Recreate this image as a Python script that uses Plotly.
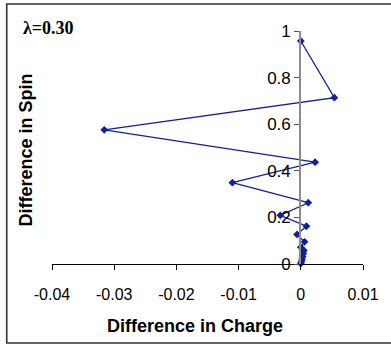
import plotly.graph_objects as go

# Data
charge_diff = [0.0, 0.0054, -0.0316, 0.0023, -0.011, 0.0012, -0.0033, 0.0009,
               -0.0006, 0.0006, 0.0, 0.0005, 0.0004, 0.0003, 0.0002, 0.0001, 0.0]
spin_diff = [0.957, 0.714, 0.576, 0.437, 0.349, 0.263, 0.209, 0.162,
             0.127, 0.095, 0.072, 0.058, 0.045, 0.032, 0.02, 0.01, 0.002]

x_ticks = [-0.04, -0.03, -0.02, -0.01, 0, 0.01]
x_tick_labels = ["-0.04", "-0.03", "-0.02", "-0.01", "0", "0.01"]
y_ticks = [0, 0.2, 0.4, 0.6, 0.8, 1]
y_tick_labels = ["0", "0.2", "0.4", "0.6", "0.8", "1"]

W, H = 391, 345
ml, mr, mt, mb = 52, 23, 31, 81
pw = W - ml - mr
ph = H - mt - mb

def px_to_xpaper(px):
    return (px - ml) / pw

def py_to_ypaper(py):
    return (H - mb - py) / ph

line_color = "#10209a"

fig = go.Figure()
fig.add_trace(go.Scatter(
    x=charge_diff, y=spin_diff, mode="lines+markers",
    line=dict(color=line_color, width=1.3),
    marker=dict(symbol="diamond", size=6, color=line_color),
    showlegend=False, cliponaxis=False,
))

font_family = "Liberation Sans, Arial, sans-serif"

fig.update_layout(
    width=W, height=H,
    margin=dict(l=ml, r=mr, t=mt, b=mb),
    paper_bgcolor="white", plot_bgcolor="white",
    font=dict(family=font_family, color="black", size=16),
    xaxis=dict(
        range=[-0.04, 0.01], tickvals=x_ticks, ticktext=x_tick_labels,
        showgrid=False, zeroline=False, showline=True, linecolor="black",
        linewidth=1, ticks="outside", ticklen=5, tickcolor="black",
        ticklabelstandoff=11,
        tickfont=dict(size=16, family=font_family),
    ),
    yaxis=dict(
        range=[0, 1], tickvals=y_ticks, ticktext=y_tick_labels,
        showgrid=False, zeroline=False, showline=True, linecolor="#8c8c8c",
        linewidth=2, ticks="outside", ticklen=5, tickcolor="#555",
        anchor="free", position=0.798,
        tickfont=dict(size=17, family=font_family),
    ),
    shapes=[dict(
        type="rect", xref="paper", yref="paper",
        x0=px_to_xpaper(6), x1=px_to_xpaper(430),
        y0=py_to_ypaper(343), y1=py_to_ypaper(4),
        line=dict(color="#333", width=1.6), fillcolor="rgba(0,0,0,0)", layer="below",
    )],
    annotations=[
        dict(text="<b>λ=0.30</b>", xref="paper", yref="paper",
             x=px_to_xpaper(20), y=py_to_ypaper(28), xanchor="left", yanchor="middle",
             showarrow=False, font=dict(family="Liberation Serif, Times New Roman, serif", size=18, color="black")),
        dict(text="<b>Difference in Spin</b>", xref="paper", yref="paper",
             x=px_to_xpaper(26), y=py_to_ypaper(150), xanchor="center", yanchor="middle",
             textangle=-90, showarrow=False, font=dict(family=font_family, size=18, color="black")),
        dict(text="<b>Difference in Charge</b>", xref="paper", yref="paper",
             x=px_to_xpaper(197), y=py_to_ypaper(326), xanchor="center", yanchor="middle",
             showarrow=False, font=dict(family=font_family, size=18, color="black")),
    ],
)

fig.write_html("out.html", config={"displayModeBar": False},
               post_script="document.body.style.margin='0';document.body.style.padding='0';")
